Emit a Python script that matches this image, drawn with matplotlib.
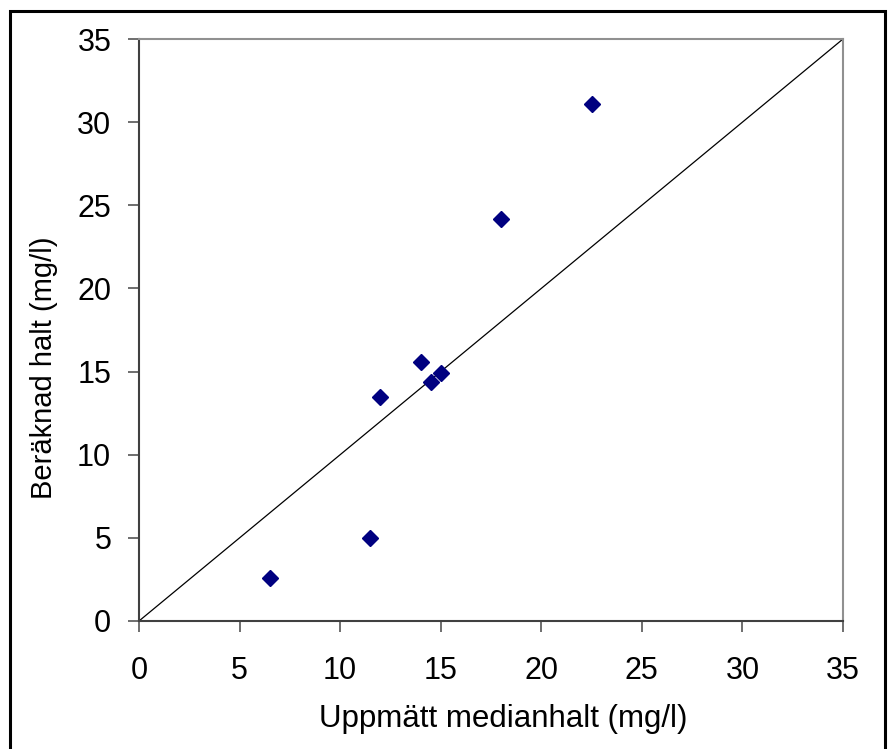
import matplotlib
matplotlib.use("Agg")
import matplotlib.pyplot as plt
from matplotlib.patches import Rectangle

plt.rcParams['font.family'] = ['Liberation Sans', 'DejaVu Sans']

# measured vs calculated concentrations (mg/l)
uppmatt = [6.5, 11.5, 12.0, 14.0, 14.5, 15.0, 18.0, 22.5]
beraknad = [2.6, 5.0, 13.5, 15.6, 14.4, 14.9, 24.2, 31.1]
ticks = [0, 5, 10, 15, 20, 25, 30, 35]

fig = plt.figure(figsize=(8.89, 7.49), dpi=100)
ax = fig.add_axes([139/889, 128/749, 704/889, 582/749])

# 1:1 line
ax.plot([0, 35], [0, 35], color='black', lw=0.9)
ax.plot(uppmatt, beraknad, linestyle='none', marker='D', ms=8.5,
        color='#000080', markeredgecolor='#000080')

ax.set_xlim(0, 35)
ax.set_ylim(0, 35)
ax.set_xticks(ticks)
ax.set_yticks(ticks)
ax.tick_params(direction='out', length=8, width=1.2, color='#555555',
               labelsize=22)
ax.tick_params(axis='x', pad=17)
ax.tick_params(axis='y', pad=12)

for side in ['left', 'bottom']:
    ax.spines[side].set_color('#404040')
    ax.spines[side].set_linewidth(1.5)
for side in ['top', 'right']:
    ax.spines[side].set_color('#909090')
    ax.spines[side].set_linewidth(1.5)

ax.set_xlabel('Uppmätt medianhalt (mg/l)', fontsize=22.5)
ax.set_ylabel('Beräknad halt (mg/l)', fontsize=21)
ax.xaxis.set_label_coords(0.517, -0.142)
ax.yaxis.set_label_coords(-0.115, 0.435)

# outer chart frame
fig.patches.append(Rectangle((10/889, -0.02), 875/889, 1.02 - 11/749,
                             transform=fig.transFigure, fill=False,
                             edgecolor='black', lw=2.2))

fig.savefig('out.png', dpi=100)
